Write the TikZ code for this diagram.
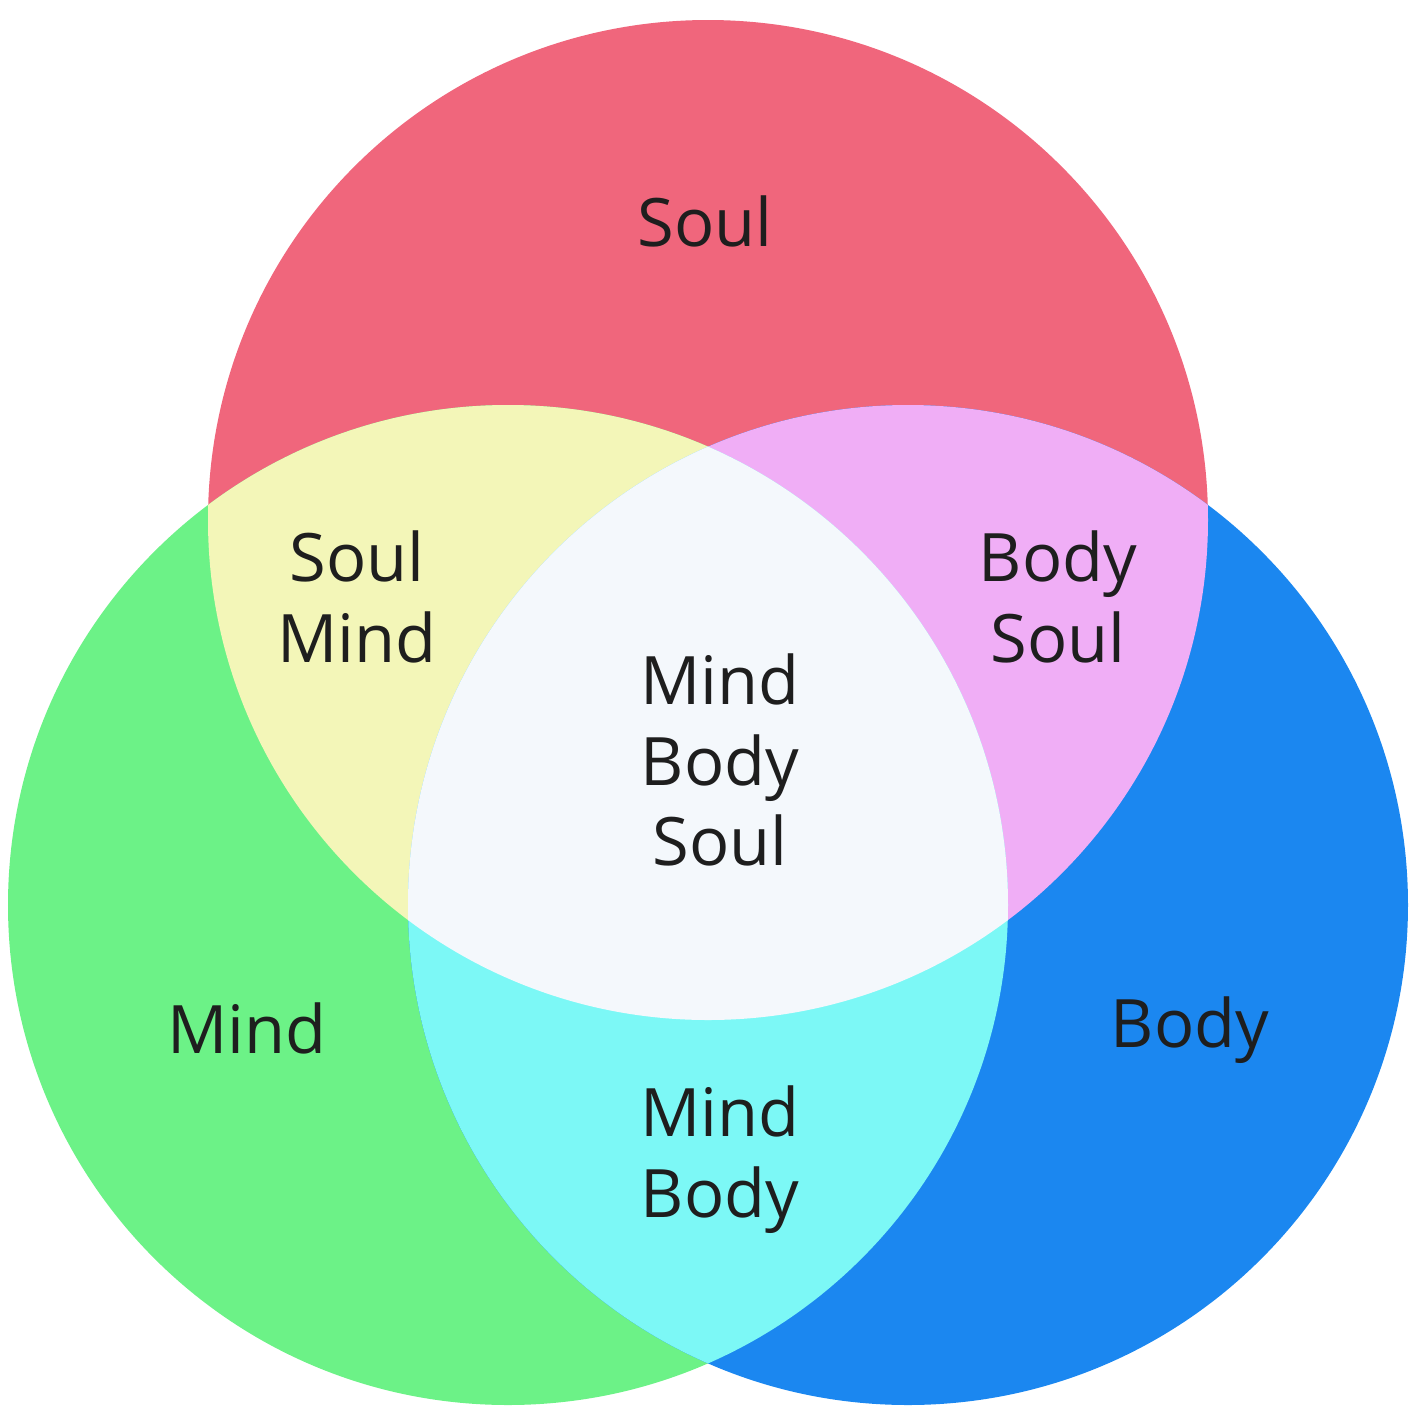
\documentclass[tikz,border=0pt]{standalone}
\usepackage{fontspec}
\setmainfont{Open Sans}
\usepackage{xcolor}
\usetikzlibrary{positioning}

\definecolor{soulred}{RGB}{240,102,124}
\definecolor{mindgreen}{RGB}{108,242,135}
\definecolor{bodyblue}{RGB}{27,135,240}
\definecolor{soulmind}{RGB}{243,246,184}
\definecolor{bodysoul}{RGB}{240,174,246}
\definecolor{mindbody}{RGB}{124,248,246}
\definecolor{allthree}{RGB}{244,248,252}
\definecolor{labeltext}{RGB}{30,30,30}

\tikzset{
  label/.style={font=\fontsize{19}{23}\selectfont, text=labeltext, align=center, inner sep=0pt}
}

\begin{document}
\begin{tikzpicture}[x=0.01cm, y=-0.01cm]

\useasboundingbox (0,0) rectangle (1420,1420);

% Circles
\def\soulc{(708,520) circle (500)}
\def\mindc{(508,905) circle (500)}
\def\bodyc{(908,905) circle (500)}

\fill[soulred] \soulc;
\fill[mindgreen] \mindc;
\fill[bodyblue] \bodyc;

% Overlaps of two
\begin{scope}
  \clip \soulc;
  \fill[soulmind] \mindc;
  \fill[bodysoul] \bodyc;
\end{scope}
\begin{scope}
  \clip \mindc;
  \fill[mindbody] \bodyc;
\end{scope}

% Overlap of all three
\begin{scope}
  \clip \soulc;
  \clip \mindc;
  \fill[allthree] \bodyc;
\end{scope}

% Labels
\node[label] (soul) at (705,221) {Soul};
\node[label] (mind) at (247,1028) {Mind};
\node[label] (body) at (1190,1030) {Body};
\node[label] (soulmindlbl) at (357,597) {Soul\\Mind};
\node[label] (bodysoullbl) at (1058,597) {Body\\Soul};
\node[label] (mindbodylbl) at (720,1160) {Mind\\Body};
\node[label] (alllbl) at (720,760) {Mind\\Body\\Soul};

\end{tikzpicture}
\end{document}
